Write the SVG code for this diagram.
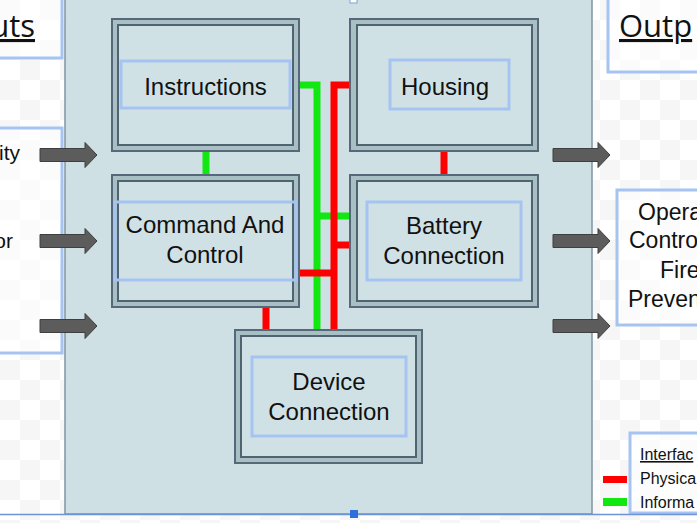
<svg xmlns="http://www.w3.org/2000/svg" width="697" height="523" viewBox="0 0 697 523">
<style>
.lbl{font-family:"Liberation Sans",Arial,sans-serif;font-size:24px;fill:#111;text-anchor:middle}
.side{font-family:"Liberation Sans",Arial,sans-serif;font-size:21px;fill:#111}
.oside{font-family:"Liberation Sans",Arial,sans-serif;font-size:23px;fill:#111}
.head{font-family:"Open Sans","Noto Sans",sans-serif;font-size:31px;fill:#111;text-decoration:underline}
.leg{font-family:"Liberation Sans",Arial,sans-serif;font-size:16px;fill:#111}
.outer{fill:#a8bfc3;stroke:#56687a;stroke-width:2}
.inner{fill:#d0e1e5;stroke:#4f6370;stroke-width:2}
.tbox{fill:none;stroke:#a6c4f2;stroke-width:3}
.frame{fill:#fff;fill-opacity:0.6;stroke:#a6c4f2;stroke-width:3}
.arrow{fill:#5c5c5c;stroke:#3f3f3f;stroke-width:1}
.phys{stroke:#ff0000;stroke-width:7;fill:none}
.info{stroke:#11e811;stroke-width:7;fill:none}
</style>
<defs>
<pattern id="chk" width="40" height="40" patternUnits="userSpaceOnUse">
<rect width="40" height="40" fill="#ffffff"/>
<rect width="20" height="20" fill="#f6f6f6"/>
<rect x="20" y="20" width="20" height="20" fill="#f6f6f6"/>
</pattern>
<path id="arr" d="M0,-6.5 H45 V-12.5 L57,0 L45,12.5 V6.5 H0 Z"/>
</defs>
<rect width="697" height="523" fill="url(#chk)"/>

<g id="inputs-box">
<rect x="-10" y="-10" width="72" height="68" class="frame"/>
<text x="35" y="37" class="head" text-anchor="end">uts</text>
</g>
<g id="inputs-list">
<rect x="-10" y="128" width="72" height="225" class="frame"/>
<text x="20" y="160" class="side" text-anchor="end">ity</text>
<text x="13" y="248" class="side" text-anchor="end">or</text>
</g>
<g id="outputs-box">
<rect x="608" y="-10" width="100" height="82" class="frame"/>
<text x="619" y="37" class="head">Outp</text>
</g>
<g id="outputs-list">
<rect x="617" y="190" width="90" height="135" class="frame"/>
<text x="638" y="220" class="oside">Opera</text>
<text x="629" y="248" class="oside">Contro</text>
<text x="660" y="278" class="oside">Fire</text>
<text x="628" y="307" class="oside">Preven</text>
</g>
<g id="legend">
<rect x="630" y="433" width="77" height="80" class="frame"/>
<text x="640" y="460" class="leg" text-decoration="underline">Interfac</text>
<rect x="603" y="476" width="24" height="7" fill="#ff0000"/>
<text x="640" y="484" class="leg">Physica</text>
<rect x="603" y="498" width="24" height="8" fill="#11e811"/>
<text x="640" y="508" class="leg">Informa</text>
</g>

<g id="system">
<rect x="65" y="-3" width="527" height="517" fill="#cfe0e4" stroke="#7f95a3" stroke-width="1.5"/>
</g>
<line x1="0" y1="514.5" x2="697" y2="514.5" stroke="#6d93d6" stroke-width="1.5"/>
<rect x="350" y="510" width="8" height="8" fill="#2f6fdc"/>
<rect x="350" y="-4" width="7" height="7" fill="#fff" stroke="#7f9fd6" stroke-width="1"/>

<g id="io-arrows">
<use href="#arr" class="arrow" transform="translate(40,155)"/>
<use href="#arr" class="arrow" transform="translate(40,241)"/>
<use href="#arr" class="arrow" transform="translate(40,326)"/>
<use href="#arr" class="arrow" transform="translate(553,155)"/>
<use href="#arr" class="arrow" transform="translate(553,241)"/>
<use href="#arr" class="arrow" transform="translate(553,326)"/>
</g>

<g id="connectors">
<path class="info" d="M206,151 V175"/>
<path class="info" d="M299,85 H317 V330"/>
<path class="info" d="M317,216 H350"/>
<path class="phys" d="M350,85 H334 V330"/>
<path class="phys" d="M334,245 H350"/>
<path class="phys" d="M299,273 H334"/>
<path class="phys" d="M444,151 V175"/>
<path class="phys" d="M266,307 V330"/>
</g>

<g id="instructions">
<rect x="112" y="19" width="187" height="132" class="outer"/>
<rect x="118" y="25" width="175" height="120" class="inner"/>
<rect x="121" y="61" width="169" height="47" class="tbox"/>
<text x="205.5" y="95" class="lbl">Instructions</text>
</g>
<g id="housing">
<rect x="350" y="19" width="188" height="132" class="outer"/>
<rect x="357" y="25" width="175" height="120" class="inner"/>
<rect x="390" y="60" width="119" height="49" class="tbox"/>
<text x="445" y="95" class="lbl">Housing</text>
</g>
<g id="command-and-control">
<rect x="112" y="175" width="187" height="132" class="outer"/>
<rect x="118" y="181" width="175" height="120" class="inner"/>
<rect x="115" y="202" width="181" height="78" class="tbox"/>
<text x="205" y="233" class="lbl">Command And</text>
<text x="205" y="263" class="lbl">Control</text>
</g>
<g id="battery-connection">
<rect x="350" y="175" width="188" height="132" class="outer"/>
<rect x="357" y="181" width="175" height="120" class="inner"/>
<rect x="367" y="202" width="154" height="78" class="tbox"/>
<text x="444" y="234" class="lbl">Battery</text>
<text x="444" y="264" class="lbl">Connection</text>
</g>
<g id="device-connection">
<rect x="235" y="330" width="187" height="133" class="outer"/>
<rect x="241" y="336" width="175" height="121" class="inner"/>
<rect x="252" y="357" width="154" height="79" class="tbox"/>
<text x="329" y="390" class="lbl">Device</text>
<text x="329" y="420" class="lbl">Connection</text>
</g>
</svg>
